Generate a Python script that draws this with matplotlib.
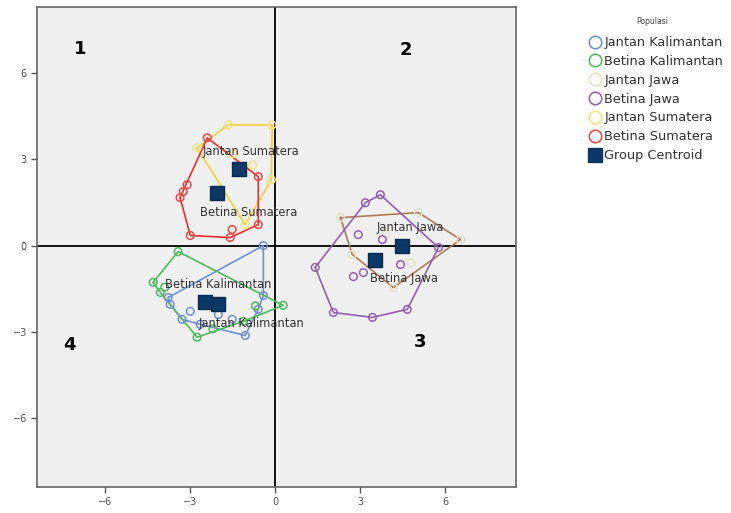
import numpy as np
import matplotlib.pyplot as plt
from matplotlib.lines import Line2D

# skor fungsi diskriminan per individu
jk_x = [-0.42, -0.42, -3.78, -3.71, -3.29, -3.00, -2.47, -2.01, -1.52, -1.06, -2.65, -0.60]
jk_y = [0.00, -1.74, -1.81, -2.05, -2.57, -2.29, -1.88, -2.40, -2.57, -3.13, -2.74, -2.22]

bk_x = [-3.43, -4.31, -4.06, -2.76, 0.28, -1.13, -0.70, -3.90, -2.20]
bk_y = [-0.21, -1.28, -1.63, -3.19, -2.08, -2.64, -2.10, -1.45, -2.90]

jj_x = [2.30, 5.05, 6.54, 4.17, 2.72, 3.90, 4.80]
jj_y = [0.97, 1.15, 0.21, -1.46, -0.31, 0.40, -0.60]

bj_x = [3.18, 3.71, 5.76, 4.66, 3.43, 2.05, 1.41, 2.93, 3.78, 4.42, 2.76, 3.11]
bj_y = [1.49, 1.77, -0.07, -2.22, -2.50, -2.33, -0.76, 0.38, 0.21, -0.66, -1.08, -0.94]

js_x = [-2.76, -1.66, -0.11, -0.14, -1.06, -1.50, -0.80]
js_y = [3.40, 4.20, 4.20, 2.29, 0.73, 3.20, 2.80]

bs_x = [-2.40, -0.60, -0.60, -1.59, -3.00, -3.36, -3.25, -3.11, -1.52]
bs_y = [3.75, 2.40, 0.73, 0.28, 0.35, 1.67, 1.88, 2.12, 0.56]

groups = ["Jantan Kalimantan", "Betina Kalimantan", "Jantan Jawa",
          "Betina Jawa", "Jantan Sumatera", "Betina Sumatera"]
cent_x = [-2.01, -2.47, 4.49, 3.53, -1.27, -2.05]
cent_y = [-2.05, -1.98, -0.03, -0.49, 2.67, 1.84]
label_x = [-0.85, -2.0, 4.75, 4.55, -0.85, -0.95]
label_y = [-2.70, -1.35, 0.62, -1.15, 3.28, 1.14]

quad_labels = ["1", "2", "3", "4"]
quad_x = [-6.9, 4.6, 5.1, -7.25]
quad_y = [6.85, 6.8, -3.35, -3.45]

point_sets = [(jk_x, jk_y), (bk_x, bk_y), (jj_x, jj_y),
              (bj_x, bj_y), (js_x, js_y), (bs_x, bs_y)]
colors = ["#6f8fd0", "#4fb860", "#e6e2c6", "#9060b0", "#f2e67a", "#e84848"]
hull_colors = ["#6f8fd0", "#4fb860", "#b07a5a", "#9060b0", "#f0d040", "#e83030"]


def convex_hull(px, py):
    pts = sorted(set(zip(px, py)))

    def cross(o, a, b):
        return (a[0] - o[0]) * (b[1] - o[1]) - (a[1] - o[1]) * (b[0] - o[0])

    lower, upper = [], []
    for p in pts:
        while len(lower) >= 2 and cross(lower[-2], lower[-1], p) <= 0:
            lower.pop()
        lower.append(p)
    for p in reversed(pts):
        while len(upper) >= 2 and cross(upper[-2], upper[-1], p) <= 0:
            upper.pop()
        upper.append(p)
    hull = lower[:-1] + upper[:-1]
    hull.append(hull[0])
    return [h[0] for h in hull], [h[1] for h in hull]


fig = plt.figure(figsize=(7.31, 5.13), dpi=100)
ax = fig.add_axes([0.051, 0.051, 0.655, 0.935])
ax.set_facecolor("#f0f0f0")

ax.axhline(0, color="black", lw=1.3, zorder=1)
ax.axvline(0, color="black", lw=1.3, zorder=1)

for (px, py), c, hc in zip(point_sets, colors, hull_colors):
    hx, hy = convex_hull(px, py)
    ax.plot(hx, hy, color=hc, lw=1.2, zorder=2)
    ax.scatter(px, py, s=30, facecolors="none", edgecolors=c, linewidths=1.1, zorder=3)

ax.scatter(cent_x, cent_y, marker="s", s=110, color="#0c3866", edgecolors="#0a2a50", zorder=5)

for g, lx, ly in zip(groups, label_x, label_y):
    ax.text(lx, ly, g, ha="center", va="center", fontsize=8.3, color="#333333", zorder=6)

for q, qx, qy in zip(quad_labels, quad_x, quad_y):
    ax.text(qx, qy, q, ha="center", va="center", fontsize=13, fontweight="bold", color="black")

ax.set_xlim(-8.4, 8.5)
ax.set_ylim(-8.4, 8.3)
ax.set_xticks([-6, -3, 0, 3, 6])
ax.set_yticks([-6, -3, 0, 3, 6])
ax.tick_params(labelsize=7, colors="#555555", length=4, width=1, direction="out")
for s in ax.spines.values():
    s.set_color("#666666")
    s.set_linewidth(1.2)

fig.text(652 / 731, 1 - 22 / 513, "Populasi", fontsize=5.5, ha="center", va="center", color="#444444")
handles = [Line2D([], [], marker="o", ls="none", markersize=9, markerfacecolor="none",
                  markeredgecolor=c, markeredgewidth=1.1) for c in colors]
handles.append(Line2D([], [], marker="s", ls="none", markersize=10, color="#0c3866"))
leg = fig.legend(handles, groups + ["Group Centroid"],
                 loc="upper left", bbox_to_anchor=(0.795, 1 - 31 / 513), frameon=False,
                 fontsize=9.3, handletextpad=0.0, labelspacing=0.45,
                 borderaxespad=0, handlelength=1.4)
for t in leg.get_texts():
    t.set_color("#333333")

fig.savefig("out.png", dpi=100)
